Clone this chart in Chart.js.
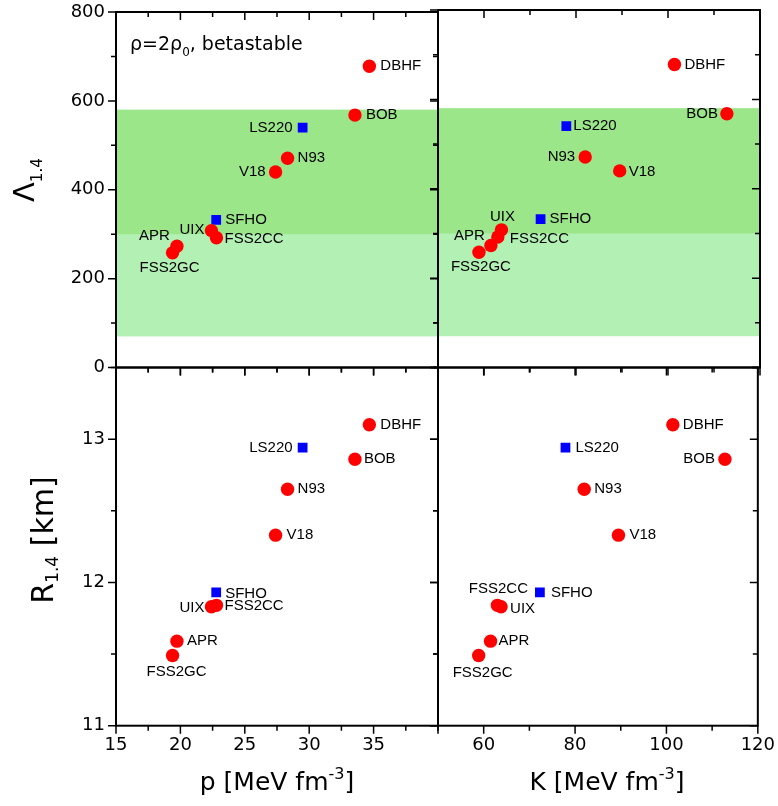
<!DOCTYPE html>
<html><head><meta charset="utf-8">
<script src="https://cdn.jsdelivr.net/npm/chart.js@4/dist/chart.umd.min.js"></script>
<style>
html,body{margin:0;padding:0;background:#fff;}
#wrap{position:relative;width:778px;height:806px;overflow:hidden;}
#wrap canvas{position:absolute;left:0;top:0;}
</style></head><body>
<div id="wrap">
<canvas id="cTL" width="778" height="806"></canvas>
<canvas id="cTR" width="778" height="806"></canvas>
<canvas id="cBL" width="778" height="806"></canvas>
<canvas id="cBR" width="778" height="806"></canvas>
</div>
<script>
// ---------------- data ----------------
const models      = ['DBHF','BOB','LS220','N93','V18','SFHO','UIX','FSS2CC','APR','FSS2GC'];
const markerKind  = ['circle','circle','square','circle','circle','square','circle','circle','circle','circle'];
const pressure    = [34.67, 33.55, 29.49, 28.32, 27.39, 22.78, 22.41, 22.80, 19.73, 19.39];   // p [MeV fm^-3]
const incompress  = [101.4, 112.8, 77.9, 82.0, 89.5, 72.3, 63.8, 63.0, 61.5, 58.9];          // K [MeV fm^-3]
const tidalDef    = [678, 568, 540, 471, 440, 332, 308, 292, 273, 258];                      // Lambda_1.4
const radius14    = [13.10, 12.86, 12.94, 12.65, 12.33, 11.93, 11.83, 11.84, 11.59, 11.49];  // R_1.4 [km]
const bandLight   = [70, 580];
const bandDark    = [300, 580];
const pTickLabels   = [15, 20, 25, 30, 35];
const kTickLabels   = [60, 80, 100, 120];
const lamTickLabels = [0, 200, 400, 600, 800];
const rTickLabels   = [11, 12, 13];

// ---------------- layout / style ----------------
const W = 778, H = 806;
const XL = 116, XM = 438, XR = 760, YT = 10, YM = 367.5, YB = 725.7;
const TICK_FONT = {family: 'DejaVu Sans', size: 18, lineHeight: 1};
const LABEL_FONT = '15px "Liberation Sans", Arial, sans-serif';
const COL_LIGHT = '#b2f0b4', COL_DARK = '#9ce68a';

const labelPos = {
  TL: {DBHF:[11,0,'left'], BOB:[11,0,'left'], LS220:[-10,0,'right'], N93:[10,0,'left'], V18:[-10,0,'right'],
       SFHO:[9,0,'left'], UIX:[-7,-1,'right'], FSS2CC:[8,1,'left'], APR:[-7,-10,'right'], FSS2GC:[-3,15,'center']},
  TR: {DBHF:[10,0,'left'], BOB:[-9,0,'right'], LS220:[7,0,'left'], N93:[-10,0,'right'], V18:[9,1,'left'],
       SFHO:[9,0,'left'], UIX:[1,-13,'center'], FSS2CC:[12,2,'left'], APR:[-6,-10,'right'], FSS2GC:[2,15,'center']},
  BL: {DBHF:[11,0,'left'], LS220:[-10,0,'right'], BOB:[9,0,'left'], N93:[10,0,'left'], V18:[11,0,'left'],
       SFHO:[9,1,'left'], FSS2CC:[8,1,'left'], UIX:[-7,1,'right'], APR:[10,0,'left'], FSS2GC:[4,16,'center']},
  BR: {DBHF:[10,0,'left'], LS220:[10,0,'left'], BOB:[-10,0,'right'], N93:[10,0,'left'], V18:[11,0,'left'],
       SFHO:[11,0,'left'], FSS2CC:[1,-16,'center'], UIX:[9,2,'left'], APR:[8,0,'left'], FSS2GC:[4,17,'center']}
};

function near(v, list){ return list.some(t => Math.abs(t - v) < 1e-6); }

function axis(pos, min, max, step, labeled, show, boxSize) {
  return {
    type: 'linear', position: pos, min: min, max: max,
    grid: {display: true, drawOnChartArea: false, drawTicks: true, tickLength: 8, color: 'rgba(0,0,0,0)'},
    border: {display: false},
    ticks: {display: show, stepSize: step, autoSkip: false, maxRotation: 0, minRotation: 0, includeBounds: true,
      padding: pos === 'left' ? 3 : 3, color: '#000', font: TICK_FONT,
      callback: (v) => near(v, labeled) ? String(v) : ''},
    afterFit: (s) => { if (pos === 'left') s.width = boxSize; else s.height = boxSize; }
  };
}

function buildData(xs, ys) {
  const circ = [], sq = [];
  models.forEach((m, i) => {
    const p = {x: xs[i], y: ys[i], name: m};
    (markerKind[i] === 'square' ? sq : circ).push(p);
  });
  return {datasets: [
    {data: circ, pointStyle: 'circle', pointRadius: 6.7, pointHoverRadius: 6.7, backgroundColor: '#ff0000', borderWidth: 0},
    {data: sq, pointStyle: 'rect', pointRadius: 6.9, pointHoverRadius: 6.9, backgroundColor: '#0000ff', borderWidth: 0}
  ]};
}

function drawRich(ctx, x, y, parts, align, family) {
  let total = 0;
  parts.forEach(p => { ctx.font = p.size + 'px ' + family; p.w = ctx.measureText(p.t).width; total += p.w; });
  let cx = align === 'center' ? x - total / 2 : (align === 'right' ? x - total : x);
  ctx.textAlign = 'left'; ctx.textBaseline = 'alphabetic';
  parts.forEach(p => { ctx.font = p.size + 'px ' + family; ctx.fillText(p.t, cx, y + (p.dy || 0)); cx += p.w; });
}

// rect: {left, right, top, bottom}; xSpec/ySpec: [min,max,step,labels,showLabels]
function makePanel(id, key, rect, xs, ys, xSpec, ySpec, xMajor, yMajor, bands, extra) {
  const showX = xSpec[4], showY = ySpec[4];
  const pad = {
    left: showY ? 0 : rect.left,
    right: W - rect.right,
    top: rect.top,
    bottom: showX ? 0 : H - rect.bottom
  };
  const xScale = axis('bottom', xSpec[0], xSpec[1], xSpec[2], xSpec[3], showX, showX ? H - rect.bottom : 0);
  const yScale = axis('left', ySpec[0], ySpec[1], ySpec[2], ySpec[3], showY, showY ? rect.left : 0);
  const plugin = {
    id: 'panel' + key,
    beforeDatasetsDraw(chart) {
      if (!bands) return;
      const {ctx, chartArea: a, scales: {y}} = chart;
      ctx.save();
      ctx.fillStyle = COL_LIGHT;
      let t = y.getPixelForValue(bandLight[1]), b = y.getPixelForValue(bandLight[0]);
      ctx.fillRect(a.left, t, a.right - a.left, b - t);
      ctx.fillStyle = COL_DARK;
      t = y.getPixelForValue(bandDark[1]); b = y.getPixelForValue(bandDark[0]);
      ctx.fillRect(a.left, t, a.right - a.left, b - t);
      ctx.restore();
    },
    afterDatasetsDraw(chart) {
      const ctx = chart.ctx;
      const pos = labelPos[key];
      ctx.save();
      ctx.font = LABEL_FONT; ctx.fillStyle = '#000'; ctx.textBaseline = 'middle';
      chart.data.datasets.forEach((ds, di) => {
        chart.getDatasetMeta(di).data.forEach((el, j) => {
          const name = ds.data[j].name;
          const o = pos[name];
          ctx.textAlign = o[2];
          ctx.fillText(name, el.x + o[0], el.y + o[1]);
        });
      });
      ctx.restore();
    },
    afterDraw(chart) {
      const {ctx, chartArea: a, scales: {x, y}} = chart;
      ctx.save();
      ctx.strokeStyle = '#000'; ctx.lineWidth = 1.5; ctx.lineCap = 'butt';
      ctx.beginPath();
      x.ticks.forEach(t => {
        const px = x.getPixelForValue(t.value);
        const len = Math.abs(t.value / xMajor - Math.round(t.value / xMajor)) < 1e-6 ? 8 : 5;
        ctx.moveTo(px, a.bottom); ctx.lineTo(px, a.bottom + len);
        ctx.moveTo(px, a.top); ctx.lineTo(px, a.top + len);
      });
      y.ticks.forEach(t => {
        const py = y.getPixelForValue(t.value);
        const len = Math.abs(t.value / yMajor - Math.round(t.value / yMajor)) < 1e-6 ? 8 : 5;
        ctx.moveTo(a.left, py); ctx.lineTo(a.left - len, py);
        ctx.moveTo(a.right, py); ctx.lineTo(a.right - len, py);
      });
      ctx.stroke();
      ctx.lineWidth = 2;
      ctx.strokeRect(a.left, a.top, a.right - a.left, a.bottom - a.top);
      ctx.fillStyle = '#000';
      if (extra) extra(ctx, a);
      ctx.restore();
    }
  };
  return new Chart(document.getElementById(id), {
    type: 'scatter',
    data: buildData(xs, ys),
    options: {
      responsive: false, animation: false, events: [],
      layout: {padding: pad},
      plugins: {legend: {display: false}, tooltip: {enabled: false}},
      scales: {x: xScale, y: yScale}
    },
    plugins: [plugin]
  });
}

const FAM = '"DejaVu Sans", sans-serif';

makePanel('cTL', 'TL', {left: XL, right: XM, top: YT, bottom: YM}, pressure, tidalDef,
  [15, 40, 2.5, pTickLabels, false], [0, 800, 100, lamTickLabels, true],
  5, 200, true,
  (ctx) => {
    drawRich(ctx, 130, 50, [{t: 'ρ=2ρ', size: 19}, {t: '0', size: 12, dy: 6}, {t: ', betastable', size: 19}], 'left', FAM);
    ctx.save(); ctx.translate(33.5, 202); ctx.rotate(-Math.PI / 2);
    drawRich(ctx, 0, 0, [{t: 'Λ', size: 29}, {t: '1.4', size: 15, dy: 8.5}], 'left', FAM);
    ctx.restore();
  });

makePanel('cTR', 'TR', {left: XM, right: XR, top: YT, bottom: YM}, incompress, tidalDef,
  [50, 120, 10, kTickLabels, false], [0, 800, 100, lamTickLabels, false],
  20, 200, true, null);

makePanel('cBL', 'BL', {left: XL, right: XM, top: YM, bottom: YB}, pressure, radius14,
  [15, 40, 2.5, pTickLabels, true], [11, 13.5, 0.5, rTickLabels, true],
  5, 1, false,
  (ctx) => {
    drawRich(ctx, 277, 790, [{t: 'p [MeV fm', size: 25}, {t: '-3', size: 16, dy: -11}, {t: ']', size: 25}], 'center', FAM);
    ctx.save(); ctx.translate(53, 540); ctx.rotate(-Math.PI / 2);
    drawRich(ctx, 0, 0, [{t: 'R', size: 30}, {t: '1.4', size: 17, dy: 5}, {t: ' [km]', size: 30}], 'center', FAM);
    ctx.restore();
  });

makePanel('cBR', 'BR', {left: XM, right: XR, top: YM, bottom: YB}, incompress, radius14,
  [50, 120, 10, kTickLabels, true], [11, 13.5, 0.5, rTickLabels, false],
  20, 1, false,
  (ctx) => {
    drawRich(ctx, 607, 790, [{t: 'K [MeV fm', size: 25}, {t: '-3', size: 16, dy: -11}, {t: ']', size: 25}], 'center', FAM);
  });
</script>
</body></html>
